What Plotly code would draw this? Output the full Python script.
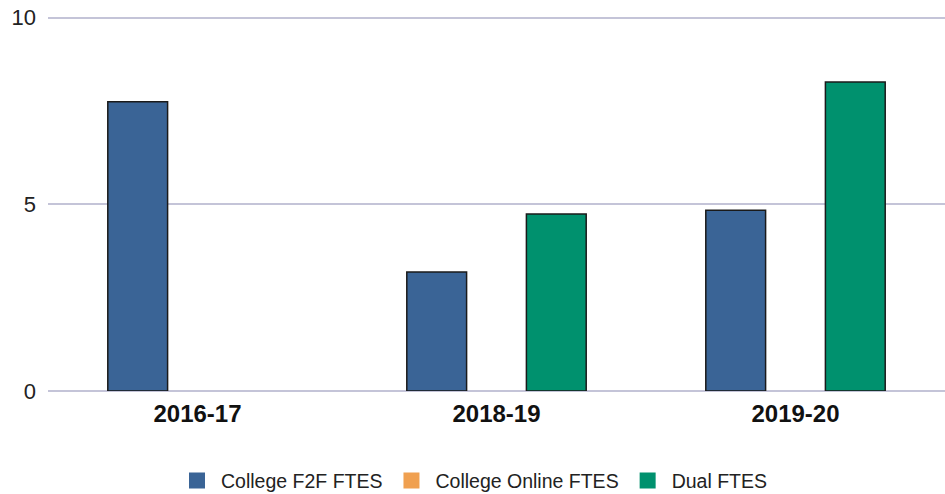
import plotly.graph_objects as go

categories = ["2016-17", "2018-19", "2019-20"]
f2f = [7.75, 3.19, 4.84]
online = [None, None, None]
dual = [None, 4.74, 8.28]

series_names = ["College F2F FTES", "College Online FTES", "Dual FTES"]
colors = ["#3a6496", "#f0a050", "#00916e"]

fig = go.Figure()
for name, vals, col in zip(series_names, [f2f, online, dual], colors):
    fig.add_trace(go.Bar(
        x=categories, y=vals, name=name, showlegend=False,
        marker=dict(color=col, line=dict(color="#1a1a1a", width=1.5)),
    ))
# legend entries (larger square swatches)
for name, col in zip(series_names, colors):
    fig.add_trace(go.Scatter(
        x=[None], y=[None], mode="markers", name=name,
        marker=dict(symbol="square", size=16, color=col, line=dict(width=0)),
    ))

fig.update_layout(
    width=945, height=494,
    barmode="group", bargap=0.4, bargroupgap=0,
    plot_bgcolor="white", paper_bgcolor="white",
    margin=dict(l=48, r=0, t=14, b=103, autoexpand=False),
    font=dict(family="Liberation Sans, Arial, sans-serif", color="#222"),
    showlegend=True,
    legend=dict(orientation="h", xref="container", yref="container",
                x=0.5, xanchor="center", y=0.0265, yanchor="middle",
                font=dict(size=19.5, color="#222"), itemwidth=38, traceorder="normal"),
    xaxis=dict(showgrid=False, showline=False, zeroline=False, automargin=False,
               tickfont=dict(size=24, color="#111", weight="bold"),
               ticks="", ticklabelstandoff=6),
    yaxis=dict(range=[0, 10.1], tickvals=[0, 5, 10], showgrid=True, gridcolor="#c4c4d8", gridwidth=1.5,
               zeroline=True, zerolinecolor="#c4c4d8", zerolinewidth=1.5, automargin=False,
               ticklabeloverflow="allow",
               tickfont=dict(size=22, color="#222"), ticks="", ticklabelstandoff=11, showline=False),
)
fig.write_html("out.html", config={"displayModeBar": False},
               post_script="document.body.style.margin='0';")
